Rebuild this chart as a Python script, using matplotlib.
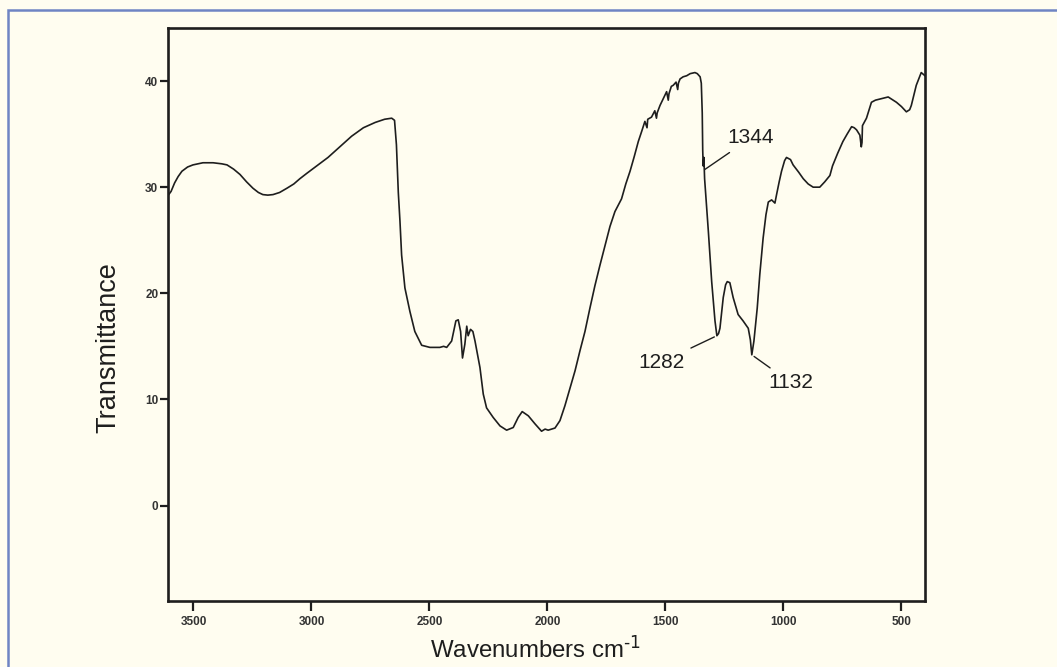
import matplotlib.pyplot as plt
from matplotlib.patches import Rectangle

# IR spectrum (wavenumber in cm-1, transmittance)
wavenumber = [3605, 3595, 3580, 3565, 3549, 3525, 3502, 3460, 3417, 3380,
              3358, 3330, 3303, 3275, 3248, 3225, 3206, 3185, 3163, 3135,
              3104, 3075, 3049, 3020, 2990, 2930, 2880, 2830, 2780, 2730,
              2690, 2660, 2648, 2640, 2632, 2625, 2618, 2604, 2583, 2562,
              2533, 2498, 2456, 2440, 2427, 2406, 2388, 2378, 2368, 2360,
              2350, 2342, 2336, 2326, 2316, 2307, 2286, 2272, 2258, 2230,
              2201, 2173, 2145, 2124, 2107, 2081, 2053, 2025, 2010, 1997,
              1968, 1947, 1926, 1905, 1883, 1862, 1841, 1820, 1799, 1778,
              1757, 1735, 1714, 1686, 1668, 1650, 1632, 1615, 1600, 1587,
              1578, 1575, 1559, 1545, 1538, 1535, 1523, 1510, 1495, 1488,
              1485, 1475, 1467, 1455, 1448, 1445, 1438, 1425, 1410, 1395,
              1375, 1365, 1353, 1348, 1344, 1342, 1340, 1337, 1334, 1328,
              1318, 1304, 1290, 1282, 1275, 1269, 1255, 1245, 1238, 1227,
              1213, 1192, 1171, 1149, 1140, 1134, 1125, 1111, 1100, 1086,
              1074, 1064, 1050, 1036, 1029, 1018, 1008, 995, 987, 970,
              959, 935, 916, 895, 874, 846, 825, 803, 792, 770,
              748, 730, 711, 700, 690, 676, 670, 667, 665, 648,
              627, 610, 592, 556, 521, 500, 479, 465, 458, 437,
              416, 405, 400]
transmittance = [29.3, 29.6, 30.4, 31.0, 31.5, 31.9, 32.1, 32.3, 32.3, 32.2,
                 32.1, 31.7, 31.2, 30.5, 29.9, 29.5, 29.3, 29.25, 29.3, 29.5,
                 29.9, 30.3, 30.8, 31.3, 31.8, 32.8, 33.8, 34.8, 35.6, 36.1,
                 36.4, 36.5, 36.3, 34.0, 29.5, 26.8, 23.6, 20.5, 18.3, 16.4,
                 15.1, 14.9, 14.9, 15.0, 14.9, 15.5, 17.4, 17.5, 16.4, 13.9,
                 15.2, 16.9, 16.0, 16.6, 16.4, 15.5, 13.0, 10.5, 9.2, 8.3,
                 7.5, 7.1, 7.35, 8.3, 8.85, 8.45, 7.7, 7.0, 7.2, 7.1,
                 7.3, 8.0, 9.4, 11.0, 12.7, 14.6, 16.4, 18.6, 20.7, 22.6,
                 24.4, 26.3, 27.7, 28.9, 30.3, 31.5, 32.9, 34.3, 35.3, 36.2,
                 35.6, 36.4, 36.6, 37.2, 36.5, 37.0, 37.7, 38.3, 39.0, 38.2,
                 38.8, 39.5, 39.6, 39.9, 39.2, 39.8, 40.2, 40.4, 40.5, 40.7,
                 40.8, 40.7, 40.4, 39.8, 37.0, 33.5, 32.0, 32.8, 30.8, 28.9,
                 25.8, 21.1, 17.4, 16.0, 16.2, 16.7, 19.6, 20.8, 21.1, 21.0,
                 19.6, 18.0, 17.4, 16.7, 15.6, 14.2, 15.5, 18.6, 21.8, 25.2,
                 27.4, 28.6, 28.8, 28.5, 29.3, 30.5, 31.5, 32.5, 32.8, 32.6,
                 32.1, 31.4, 30.8, 30.3, 30.0, 30.0, 30.5, 31.1, 32.0, 33.2,
                 34.3, 35.0, 35.7, 35.6, 35.4, 34.9, 33.8, 34.2, 35.8, 36.5,
                 38.0, 38.2, 38.3, 38.5, 38.0, 37.6, 37.1, 37.3, 37.7, 39.6,
                 40.8, 40.6, 40.5]

# labelled bands: (wavenumber, transmittance at the band, label offset in points)
peak_wn = [1344, 1282, 1134]
peak_T = [31.5, 16.0, 14.2]
peak_labels = ['1344', '1282', '1132']
label_offsets = [(35, 24), (-40, -19), (28, -20)]

x_ticks = [3500, 3000, 2500, 2000, 1500, 1000, 500]
y_ticks = [0, 10, 20, 30, 40]

BG = '#fffdf0'
INK = '#1e1e1e'

plt.rcParams['font.family'] = ['Liberation Sans', 'DejaVu Sans']
plt.rcParams['mathtext.default'] = 'regular'

fig = plt.figure(figsize=(10.57, 6.67), dpi=100, facecolor=BG)
# blue frame of the scanned page (only top and left edges show)
fig.patches.append(Rectangle((8 / 1057, -0.1), 1.2, 1.0 - 10 / 667 + 0.1,
                             transform=fig.transFigure, fill=False,
                             edgecolor='#6f84c4', linewidth=1.8))

ax = fig.add_axes([168 / 1057, 1 - 601 / 667, 757 / 1057, 573 / 667])
ax.set_facecolor(BG)
ax.plot(wavenumber, transmittance, color=INK, linewidth=1.2)

ax.set_xlim(3608, 400)
ax.set_ylim(-9, 45)
ax.set_xticks(x_ticks)
ax.set_yticks(y_ticks)

for sp in ax.spines.values():
    sp.set_linewidth(1.9)
    sp.set_color(INK)
ax.tick_params(axis='x', direction='out', length=7, width=1.6, color=INK,
               labelsize=8.5, pad=4, labelcolor='#333333')
ax.tick_params(axis='y', direction='out', length=5.5, width=1.6, color=INK,
               labelsize=8.5, pad=1.5, labelcolor='#333333')
for lab in ax.get_xticklabels() + ax.get_yticklabels():
    lab.set_fontweight('bold')

ax.set_xlabel(r'Wavenumbers cm$^{\text{-1}}$', fontsize=17.3, color=INK)
ax.xaxis.set_label_coords(0.486, -0.061)
ax.set_ylabel('Transmittance', fontsize=19.5, color=INK)
ax.yaxis.set_label_coords(-0.061, 0.443)

for wn, t, txt, off in zip(peak_wn, peak_T, peak_labels, label_offsets):
    ax.annotate(txt, xy=(wn, t), xytext=off, textcoords='offset points',
                ha='center', va='center', fontsize=15, color=INK,
                arrowprops=dict(arrowstyle='-', color=INK, lw=1.0,
                                shrinkA=3, shrinkB=2))

fig.savefig('out.png', dpi=100, facecolor=BG)
